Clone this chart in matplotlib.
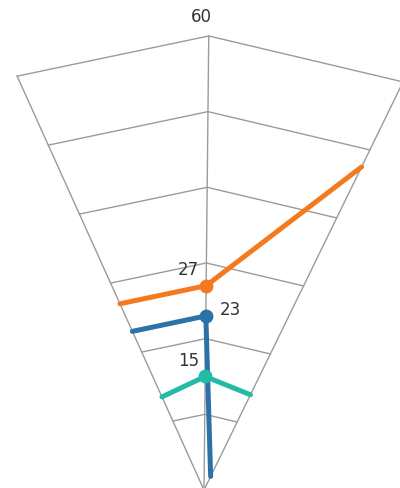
import numpy as np
import matplotlib
matplotlib.use("Agg")
import matplotlib.pyplot as plt

# Angular positions of the three spokes (degrees, clockwise from north)
spokes_deg = [-24.3, 0.6, 26.0]
grid_levels = [10, 20, 30, 40, 50, 60]
r_max = 60

# Series values at the left, centre and right spokes
orange_vals = [27, 27, 47.5]
blue_vals = [23, 23, 2]
teal_vals = [13.5, 15, 14]

series = [
    ("orange", orange_vals, "#f47a20", (-18, 16)),
    ("blue", blue_vals, "#2d72a6", (25, 6)),
    ("teal", teal_vals, "#22bba8", (-17, 15)),
]

W, H = 400, 488
fig = plt.figure(figsize=(W / 100, H / 100), dpi=100)

# square axes box that holds the wedge (origin just below the bottom edge)
side = 455
ax = fig.add_axes([-17.4 / W, -2 / H, side / W, side / H], projection="polar")
ax.set_theta_zero_location("N")
ax.set_theta_direction(-1)
ax.set_thetamin(spokes_deg[0])
ax.set_thetamax(spokes_deg[-1])
ax.set_rlim(0, r_max)
ax.axis("off")

th = np.radians(spokes_deg)
grid_color = "#9b9b9b"

# polygonal grid rings
for lvl in grid_levels:
    ax.plot(th, [lvl] * len(th), color=grid_color, lw=1.0, clip_on=False, zorder=1)
# spokes
for t in th:
    ax.plot([t, t], [0, r_max], color=grid_color, lw=1.0, clip_on=False, zorder=1)

ax.annotate(str(r_max), (th[1], r_max), xytext=(-7.5, 18.5), textcoords="offset pixels",
            ha="center", va="center", fontsize=12, color="#333333",
            annotation_clip=False)

for z, (name, vals, color, off) in enumerate(series):
    ax.plot(th, vals, color=color, lw=3.6, solid_capstyle="round",
            solid_joinstyle="round", marker="o", markersize=10, markevery=[1],
            markeredgewidth=0, clip_on=False, zorder=3 + z)
    ax.annotate(f"{vals[1]:g}", (th[1], vals[1]), xytext=off, textcoords="offset pixels",
                ha="center", va="center", fontsize=12, color="#333333",
                annotation_clip=False, zorder=10)

fig.savefig("out.png", dpi=100)
